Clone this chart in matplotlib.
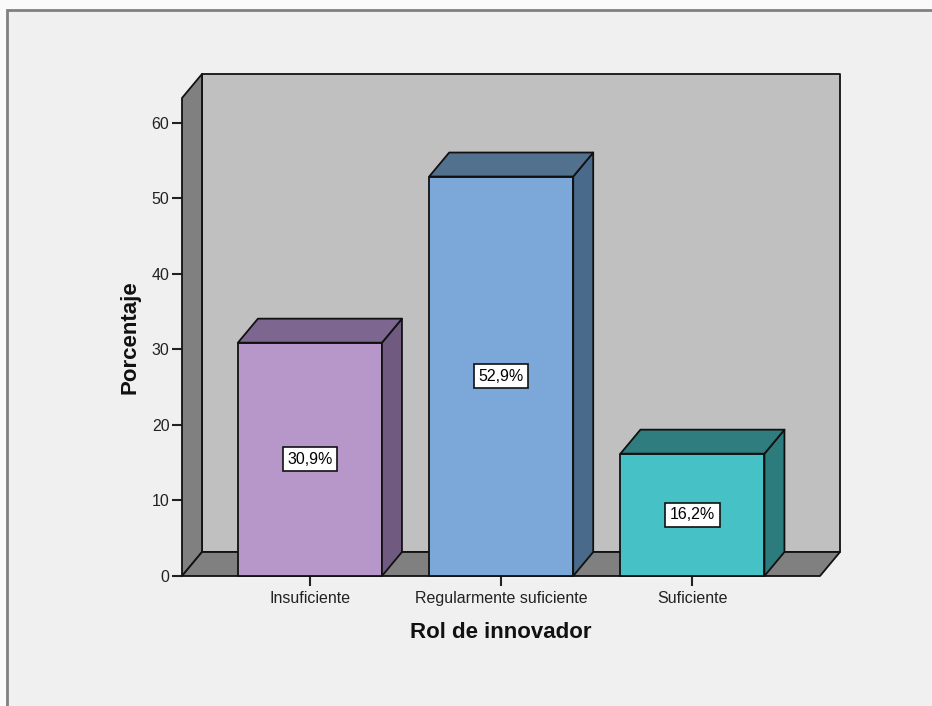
import matplotlib
matplotlib.use("Agg")
import matplotlib.pyplot as plt
from matplotlib.patches import Polygon, Rectangle

plt.rcParams['font.family'] = ['Liberation Sans', 'DejaVu Sans']

# Data
categories = ["Insuficiente", "Regularmente suficiente", "Suficiente"]
percentages = [30.9, 52.9, 16.2]
value_labels = ["30,9%", "52,9%", "16,2%"]
y_ticks = [0, 10, 20, 30, 40, 50, 60]

# Face colours: front, side, top
front_colors = ["#B797C9", "#7BA8D8", "#46C1C6"]
side_colors = ["#705A80", "#4A6A8C", "#2C7B7D"]
top_colors = ["#7D6791", "#52718F", "#2F7D7F"]

W, H = 932, 706
fig = plt.figure(figsize=(W / 100, H / 100), dpi=100)
fig.patch.set_facecolor("#FAFAFA")

# Outer chart frame
fig.add_artist(Rectangle((7 / W, -0.05), 1.2, 1 - 10 / H + 0.05,
                         transform=fig.transFigure, facecolor="#F0F0F0",
                         edgecolor="#808080", linewidth=2, zorder=0))

# Front plane of the plot region
x0_px, x1_px, y0_px, y1_px = 182, 820, 576, 98
ax = fig.add_axes([x0_px / W, (H - y0_px) / H, (x1_px - x0_px) / W, (y0_px - y1_px) / H])
ax.patch.set_visible(False)
for s in ax.spines.values():
    s.set_visible(False)

XMIN, XMAX = -0.669, 2.667
YMAX = 63.3
ax.set_xlim(XMIN, XMAX)
ax.set_ylim(0, YMAX)

# Depth of the 3D effect, converted from pixels into data units
DX = 20 / (x1_px - x0_px) * (XMAX - XMIN)
DY = 24 / (y0_px - y1_px) * YMAX

edge = dict(edgecolor="#111111", linewidth=1.3, clip_on=False, joinstyle="round")

# Back wall, left wall and floor
ax.add_patch(Polygon([(XMIN + DX, DY), (XMAX + DX, DY), (XMAX + DX, YMAX + DY), (XMIN + DX, YMAX + DY)],
                     facecolor="#C0C0C0", zorder=1, **edge))
ax.add_patch(Polygon([(XMIN, 0), (XMIN + DX, DY), (XMIN + DX, YMAX + DY), (XMIN, YMAX)],
                     facecolor="#808080", zorder=2, **edge))
ax.add_patch(Polygon([(XMIN, 0), (XMAX, 0), (XMAX + DX, DY), (XMIN + DX, DY)],
                     facecolor="#808080", zorder=2, **edge))

# 3D bars
BAR_W = 0.753
for i, (v, lab) in enumerate(zip(percentages, value_labels)):
    l, r = i - BAR_W / 2, i + BAR_W / 2
    ax.add_patch(Polygon([(l, 0), (r, 0), (r, v), (l, v)],
                         facecolor=front_colors[i], zorder=5, **edge))
    ax.add_patch(Polygon([(r, 0), (r + DX, DY), (r + DX, v + DY), (r, v)],
                         facecolor=side_colors[i], zorder=5, **edge))
    ax.add_patch(Polygon([(l, v), (r, v), (r + DX, v + DY), (l + DX, v + DY)],
                         facecolor=top_colors[i], zorder=5, **edge))
    ax.text(i, v / 2, lab, ha="center", va="center", fontsize=11.5, zorder=6,
            bbox=dict(boxstyle="square,pad=0.28", facecolor="white",
                      edgecolor="#111111", linewidth=1.2))

ax.set_xticks(range(len(categories)))
ax.set_xticklabels(categories)
ax.set_yticks(y_ticks)
ax.tick_params(axis="both", direction="out", length=7, width=1.5, color="#222222",
               labelsize=11.5, labelcolor="#222222")
ax.tick_params(axis="x", pad=4)
ax.tick_params(axis="y", pad=2)

ax.set_xlabel("Rol de innovador", fontsize=16, fontweight="bold", labelpad=11, color="#111111")
ax.set_ylabel("Porcentaje", fontsize=16, fontweight="bold", labelpad=8, color="#111111")

fig.savefig("out.png", dpi=100, facecolor=fig.get_facecolor())
